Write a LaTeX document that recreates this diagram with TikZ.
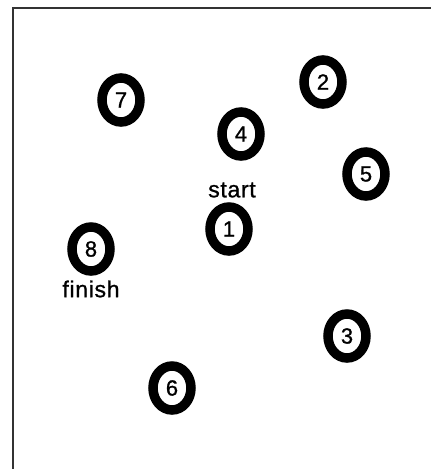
\documentclass[tikz,border=0pt]{standalone}
\usepackage{fontspec}
\setmainfont{Liberation Sans}[FakeBold=1.0]
\usetikzlibrary{shapes.geometric}
\begin{document}
\begin{tikzpicture}[x=1pt,y=-1pt,
  spot/.style={draw=black,line width=9.5pt,ellipse,minimum width=38pt,minimum height=44pt,inner sep=0pt,
    font=\fontsize{22}{24}\selectfont},
  lbl/.style={font=\fontsize{23}{26}\selectfont,inner sep=0pt}]
\useasboundingbox (0,0) rectangle (431,469);
\coordinate (tl) at (13,8);
\coordinate (tr) at (431,8);
\coordinate (bl) at (13,469);
\draw[line width=2pt,color=black!80] (tr) -- (tl) -- (bl);
\node[spot] (n7) at (121,100) {7};
\node[spot] (n2) at (323,82) {2};
\node[spot] (n4) at (241,134) {4};
\node[spot] (n5) at (366,174) {5};
\node[lbl] (start) at (232,190) {\addfontfeature{LetterSpace=3}start};
\node[spot] (n1) at (229,229) {1};
\node[spot] (n8) at (91,249) {8};
\node[lbl] (finish) at (91,289) {\addfontfeature{LetterSpace=3}finish};
\node[spot] (n3) at (347,336) {3};
\node[spot] (n6) at (172,388) {6};
\end{tikzpicture}
\end{document}
